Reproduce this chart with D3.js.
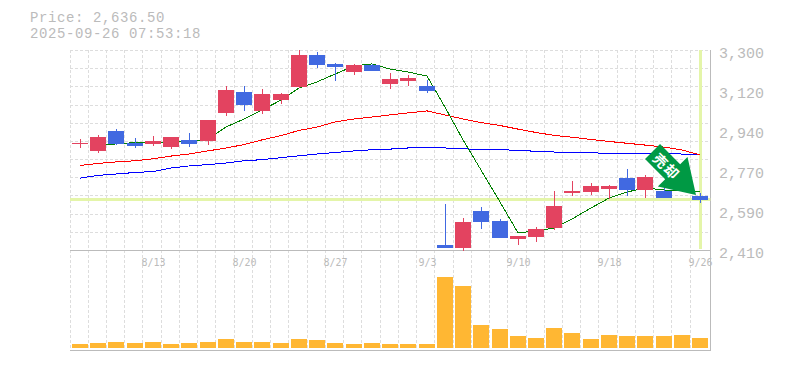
<!DOCTYPE html>
<html>
<head>
<meta charset="utf-8">
<script src="https://cdn.jsdelivr.net/npm/d3@7/dist/d3.min.js"></script>
<style>
html, body { margin: 0; padding: 0; background: #fff; }
svg { display: block; }
</style>
</head>
<body>
<svg id="chart"></svg>
<script>
var openP  = [2882,2851,2940,2886,2882,2868,2900,2895,3020,3113,3029,3077,3135,3278,3238,3202,3233,3149,3162,3140,2432,2419,2584,2539,2459,2468,2508,2664,2668,2681,2730,2677,2673,2695,2650];
var highP  = [2904,2922,2948,2908,2917,2913,2931,2988,3140,3140,3126,3109,3300,3291,3242,3238,3238,3198,3189,3166,2615,2552,2601,2548,2472,2512,2673,2717,2708,2699,2770,2744,2686,2708,2664];
var lowP   = [2864,2842,2877,2864,2873,2859,2868,2877,3006,3029,3015,3060,3131,3220,3162,3189,3207,3126,3140,3109,2419,2405,2503,2463,2432,2446,2499,2650,2655,2637,2650,2641,2641,2668,2619];
var closeP = [2888,2913,2882,2873,2895,2913,2882,2988,3122,3055,3104,3104,3278,3233,3224,3233,3207,3171,3175,3118,2419,2535,2535,2463,2472,2503,2606,2673,2695,2695,2677,2735,2641,2677,2632];
// short average has no value on the first bar
var maShort = [null,2877,2882,2888,2888,2891,2893,2904,2957,2993,3033,3077,3131,3158,3193,3229,3238,3215,3202,3184,3046,2900,2766,2624,2486,2495,2508,2548,2597,2641,2668,2686,2677,2673,2668];
var maMid   = [2786,2795,2802,2807,2816,2828,2837,2851,2864,2879,2900,2919,2942,2957,2980,2993,3002,3011,3020,3029,3011,2993,2977,2964,2948,2933,2920,2912,2902,2893,2885,2877,2868,2855,2833];
var maLong  = [2730,2742,2748,2755,2759,2775,2784,2790,2797,2807,2812,2821,2829,2837,2844,2851,2856,2859,2864,2867,2864,2860,2858,2856,2854,2849,2846,2843,2842,2841,2840,2840,2840,2837,2833];
var volume  = [4,5,6,5,6,4,5,6,9,6,6,5,9,8,5,4,5,4,4,4,71,62,23,19,12,10,20,15,9,13,12,12,12,13,10];
var priceTicks = [3300,3122,2944,2766,2588,2410];
var dateIndex  = [4,9,14,19,24,29,34];
var dateLabels = ["8/13","8/20","8/27","9/3","9/10","9/18","9/26"];
var lastPrice = 2636.5;
var lastStamp = "2025-09-26 07:53:18";
var markText = "売却";

var colorUp = "#e34360", colorDown = "#4169e1", colorVol = "#ffb733";
var colorGrid = "#dddddd", colorFrame = "#bbbbbb", colorMark = "#e4f5a9", colorArrow = "#009944";

var width = 785, height = 370;
var left = 70, right = 708.4, top_ = 50, priceBottom = 250, volBottom = 350;
var monoFont = "'Liberation Mono', monospace";

var svg = d3.select("#chart").attr("width", width).attr("height", height);

var xScale = d3.scaleBand().domain(d3.range(openP.length)).range([left, right]).paddingInner(0).paddingOuter(0);
var yScale = d3.scaleLinear().domain([2410, 3300]).range([priceBottom, top_]);
var volScale = d3.scaleLinear().domain([0, 98]).range([volBottom - 2, priceBottom]);
var barWidth = 16;

function barLeft(i) { return Math.ceil(xScale(i) + 1.5); }
function barMid(i) { return barLeft(i) + barWidth / 2; }

// grid
var gridX = d3.range(openP.length);
svg.append("g").selectAll("line").data(gridX).enter().append("line")
  .attr("x1", function(d) { return Math.floor(xScale(d)) + 0.5; })
  .attr("x2", function(d) { return Math.floor(xScale(d)) + 0.5; })
  .attr("y1", top_).attr("y2", volBottom)
  .attr("stroke", colorGrid).attr("stroke-dasharray", "3,2");

svg.append("g").selectAll("line").data(d3.range(0, 11)).enter().append("line")
  .attr("x1", left).attr("x2", right + 1)
  .attr("y1", function(d) { return Math.round(top_ + d * (priceBottom - top_) / 11) + 0.5; })
  .attr("y2", function(d) { return Math.round(top_ + d * (priceBottom - top_) / 11) + 0.5; })
  .attr("stroke", colorGrid).attr("stroke-dasharray", "3,2");

// frame
svg.append("path")
  .attr("d", "M" + left + "," + (priceBottom + 0.5) + "H" + (right + 2) + "M" + left + "," + (volBottom + 0.5) + "H" + (right + 2) + "M" + (Math.floor(right) + 2.5) + "," + top_ + "V" + (volBottom + 1))
  .attr("fill", "none").attr("stroke", colorFrame);

// current price and last date markers
svg.append("rect").attr("x", left).attr("width", right + 2 - left)
  .attr("y", Math.round(yScale(lastPrice)) - 1).attr("height", 3).attr("fill", colorMark);
svg.append("rect").attr("x", barMid(openP.length - 1) - 1).attr("width", 3)
  .attr("y", top_).attr("height", priceBottom - top_ - 1).attr("fill", colorMark);

// moving averages
var maLine = d3.line()
  .defined(function(d) { return d != null; })
  .x(function(d, i) { return barMid(i); })
  .y(function(d) { return yScale(d); });

[[maLong, "#0000ff"], [maMid, "#ff0000"], [maShort, "#008000"]].forEach(function(s) {
  svg.append("path").attr("d", maLine(s[0]))
    .attr("fill", "none").attr("stroke", s[1]).attr("stroke-width", 1).attr("shape-rendering", "crispEdges");
});

// candles
var candles = svg.append("g").attr("shape-rendering", "crispEdges").selectAll("g")
  .data(openP).enter().append("g")
  .attr("fill", function(d, i) { return closeP[i] >= d ? colorUp : colorDown; });

candles.append("rect")
  .attr("x", function(d, i) { return barMid(i); })
  .attr("width", 1)
  .attr("y", function(d, i) { return Math.round(yScale(highP[i])); })
  .attr("height", function(d, i) { return Math.round(yScale(lowP[i])) - Math.round(yScale(highP[i])); });

candles.append("rect")
  .attr("x", function(d, i) { return barLeft(i); })
  .attr("width", barWidth)
  .attr("y", function(d, i) { return Math.round(yScale(Math.max(d, closeP[i]))); })
  .attr("height", function(d, i) { return Math.max(1, Math.round(yScale(Math.min(d, closeP[i]))) - Math.round(yScale(Math.max(d, closeP[i])))); });

// volume
svg.append("g").attr("shape-rendering", "crispEdges").selectAll("rect")
  .data(volume).enter().append("rect")
  .attr("x", function(d, i) { return barLeft(i); })
  .attr("width", barWidth)
  .attr("y", function(d) { return Math.round(volScale(d)); })
  .attr("height", function(d) { return Math.round(volScale(0)) - Math.round(volScale(d)); })
  .attr("fill", colorVol);

// price axis, labels rounded to tens
var yAxis = d3.axisRight(yScale).tickValues(priceTicks).tickSize(0)
  .tickFormat(function(d) { return d3.format(",")(Math.round(d / 10) * 10); });
var yG = svg.append("g").attr("transform", "translate(719,0)").call(yAxis);
yG.select(".domain").remove();
yG.selectAll("text").attr("x", 0).attr("dy", 7)
  .attr("font-family", monoFont).attr("font-size", 15).attr("fill", colorFrame);

// date axis
var xAxis = d3.axisBottom(d3.scaleOrdinal().domain(dateIndex).range(dateIndex.map(barMid)))
  .tickSize(0)
  .tickFormat(function(d, i) { return dateLabels[i]; });
var xG = svg.append("g").attr("transform", "translate(0," + priceBottom + ")").call(xAxis);
xG.select(".domain").remove();
xG.selectAll("text").attr("y", 16).attr("dy", 0)
  .attr("font-family", "'DejaVu Sans Mono', monospace").attr("font-size", 10).attr("fill", colorFrame);

// header
svg.append("text").text("Price: " + d3.format(",.2f")(lastPrice))
  .attr("x", 30).attr("y", 22)
  .attr("font-family", monoFont).attr("font-size", 14).attr("letter-spacing", 0.6).attr("fill", colorFrame);
svg.append("text").text(lastStamp)
  .attr("x", 30).attr("y", 38)
  .attr("font-family", monoFont).attr("font-size", 14).attr("letter-spacing", 0.6).attr("fill", colorFrame);

// arrow pointing at the last price
var arrow = svg.append("g")
  .attr("transform", "translate(" + (barMid(openP.length - 1) - 4) + "," + (yScale(lastPrice) - 4) + ") rotate(45)");
arrow.append("path")
  .attr("d", "M0,0L-33,-21L-33,-10.6L-61.5,-10.6L-61.5,10.6L-33,10.6L-33,21Z")
  .attr("fill", colorArrow);
arrow.append("text").text(markText)
  .attr("x", -41).attr("y", 6)
  .attr("text-anchor", "middle")
  .attr("letter-spacing", 1.5)
  .attr("font-family", "'Noto Sans CJK JP', sans-serif").attr("font-weight", 700).attr("font-size", 14)
  .attr("fill", "#ffffff");
</script>
</body>
</html>
